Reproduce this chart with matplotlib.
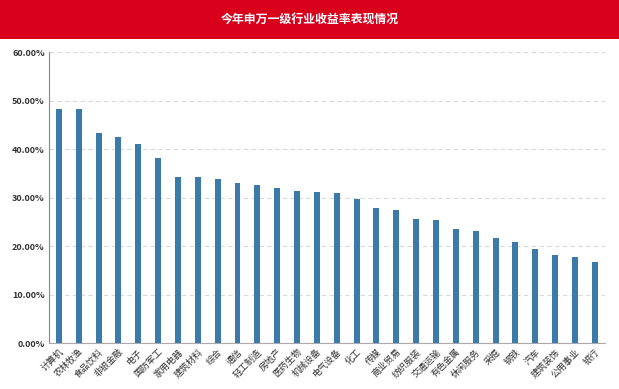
import matplotlib
matplotlib.use('Agg')
import matplotlib.pyplot as plt
from matplotlib.ticker import FuncFormatter, MultipleLocator
from matplotlib.patches import Rectangle

plt.rcParams['font.family'] = ['Noto Sans CJK SC', 'DejaVu Sans']

# industry names and year-to-date returns (%)
industries = ['计算机', '农林牧渔', '食品饮料', '非银金融', '电子', '国防军工', '家用电器',
              '建筑材料', '综合', '通信', '轻工制造', '房地产', '医药生物', '机械设备',
              '电气设备', '化工', '传媒', '商业贸易', '纺织服装', '交通运输', '有色金属',
              '休闲服务', '采掘', '钢铁', '汽车', '建筑装饰', '公用事业', '银行']
returns = [48.3, 48.3, 43.4, 42.5, 41.0, 38.1, 34.3,
           34.3, 33.9, 33.1, 32.7, 31.9, 31.3, 31.1,
           31.0, 29.7, 27.8, 27.5, 25.5, 25.3, 23.6,
           23.2, 21.6, 20.8, 19.4, 18.1, 17.7, 16.8]

title = '今年申万一级行业收益率表现情况'

fig = plt.figure(figsize=(6.19, 3.89), dpi=100)

# red title banner
fig.patches.append(Rectangle((0, 1 - 39 / 389), 1, 39 / 389, transform=fig.transFigure,
                             facecolor='#D9001B', edgecolor='none', zorder=0))
fig.text(0.5, 1 - 19 / 389, title, color='white', fontsize=8.6, fontweight='bold',
         ha='center', va='center')

ax = fig.add_axes([0.079, 0.118, 0.898, 0.748])
x = range(len(industries))
ax.bar(x, returns, width=0.3, color='#3A7BAA', zorder=3)

ax.set_ylim(0, 60)
ax.set_xlim(-0.5, len(industries) - 0.5)
ax.yaxis.set_major_locator(MultipleLocator(10))
ax.yaxis.set_major_formatter(FuncFormatter(lambda v, p: f'{v:.2f}%'))
ax.grid(axis='y', linestyle=(0, (4, 3)), color='#D9D9D9', linewidth=0.8, zorder=0)

ax.set_xticks(list(x))
ax.set_xticklabels(industries, rotation=45, ha='right', rotation_mode='anchor',
                   fontsize=6.5, color='#333333')
for lbl in ax.get_yticklabels():
    lbl.set_fontsize(6.5)
    lbl.set_fontweight('bold')
    lbl.set_color('#333333')
ax.tick_params(axis='both', length=0, pad=3)

for s in ['top', 'right']:
    ax.spines[s].set_visible(False)
ax.spines['left'].set_color('#888888')
ax.spines['bottom'].set_color('#AAAAAA')

fig.savefig('out.png', dpi=100)
